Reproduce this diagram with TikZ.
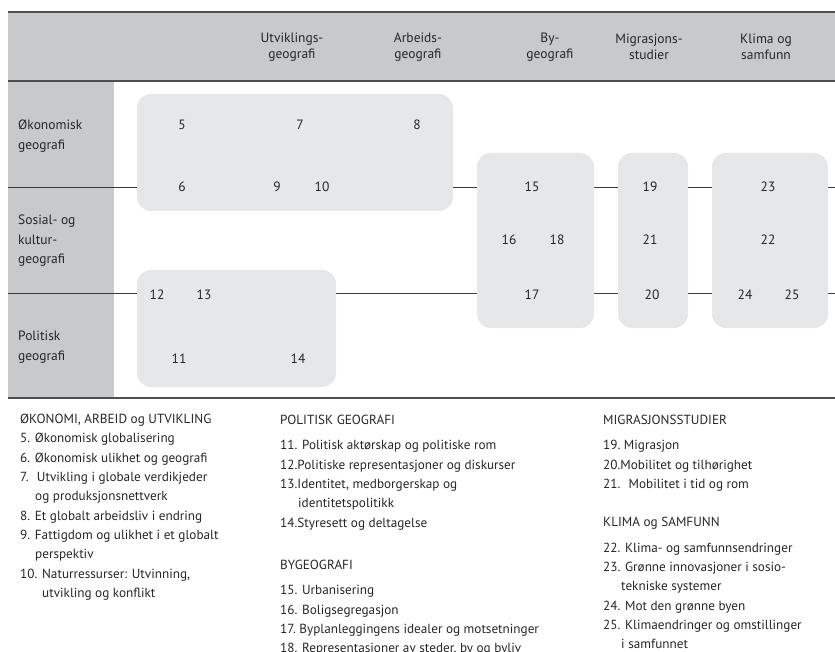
\documentclass[tikz,border=0pt]{standalone}
\usepackage{fontspec}
\setmainfont{PT Sans}
\definecolor{headgray}{HTML}{C8C9CB}
\definecolor{boxgray}{HTML}{E6E7E8}
\definecolor{rulegray}{HTML}{3A3A3A}
\newcommand{\tabfnt}{\fontsize{13.5}{19.5}\selectfont}
\newcommand{\headfnt}{\fontsize{13.5}{16.5}\selectfont}
\newcommand{\listfnt}{\fontsize{13.2}{19.3}\selectfont}
\tikzset{
  topic/.style={fill=boxgray, rounded corners=14pt, inner sep=0pt},
  num/.style={font=\tabfnt, text=black!85},
  rowlabel/.style={anchor=north west, align=left, font=\tabfnt, inner sep=0pt, text=black!85},
  colhead/.style={align=center, font=\headfnt, text=black!85},
  listcol/.style={anchor=north west, align=left, font=\listfnt, inner sep=0pt, text=black!85},
  rowrule/.style={draw=rulegray, line width=0.9pt},
  bandrule/.style={draw=rulegray!90, line width=1.4pt},
}
\begin{document}
\begin{tikzpicture}[x=1pt, y=-1pt]
  \useasboundingbox (0,0) rectangle (835,652);

  % grey header band and row column
  \fill[headgray] (8,12) rectangle (835,81);
  \fill[headgray] (8,81) rectangle (114,398);

  \coordinate (topL) at (8,12);     \coordinate (topR) at (835,12);
  \coordinate (headL) at (8,81);    \coordinate (headR) at (835,81);
  \coordinate (footL) at (8,398);   \coordinate (footR) at (835,398);
  \coordinate (r1L) at (8,187);     \coordinate (r1R) at (835,187);
  \coordinate (r2L) at (8,293);     \coordinate (r2R) at (835,293);

  \draw[bandrule] (topL) -- (topR);
  \draw[bandrule] (headL) -- (headR);
  \draw[bandrule] (footL) -- (footR);
  \draw[rowrule] (r1L) -- (r1R);
  \draw[rowrule] (r2L) -- (r2R);

  % topic boxes
  \node[topic, minimum width=316pt, minimum height=117pt] (econ) at (295,152.5) {};
  \node[topic, minimum width=199pt, minimum height=117pt] (polit) at (236.5,328.5) {};
  \node[topic, minimum width=117pt, minimum height=175pt] (urban) at (535.5,240.5) {};
  \node[topic, minimum width=70pt, minimum height=175pt] (migr) at (653,240.5) {};
  \node[topic, minimum width=116pt, minimum height=175pt] (klima) at (770,240.5) {};

  % column heads
  \node[colhead] (hUtv) at (292,47) {Utviklings-\\geografi};
  \node[colhead] (hArb) at (418,47) {Arbeids-\\geografi};
  \node[colhead] (hBy) at (550,47) {By-\\geografi};
  \node[colhead] (hMig) at (649,47) {Migrasjons-\\studier};
  \node[colhead] (hKli) at (766,47) {Klima og\\samfunn};

  % row labels
  \node[rowlabel] (lOko) at (18,120) {Økonomisk\\geografi};
  \node[rowlabel] (lSos) at (18,215) {Sosial- og\\kultur-\\geografi};
  \node[rowlabel] (lPol) at (18,331) {Politisk\\geografi};

  % topic numbers
  \node[num] (n5) at (182,125) {5};
  \node[num] (n7) at (300,125) {7};
  \node[num] (n8) at (417,125) {8};
  \node[num] (n6) at (182,187) {6};
  \node[num] (n9) at (277,187) {9};
  \node[num] (n10) at (322,187) {10};
  \node[num] (n12) at (157,295) {12};
  \node[num] (n13) at (204,295) {13};
  \node[num] (n11) at (179,359) {11};
  \node[num] (n14) at (298,359) {14};
  \node[num] (n15) at (532,187) {15};
  \node[num] (n16) at (509,240) {16};
  \node[num] (n18) at (557,240) {18};
  \node[num] (n17) at (532,295) {17};
  \node[num] (n19) at (650,187) {19};
  \node[num] (n21) at (650,240) {21};
  \node[num] (n20) at (652,295) {20};
  \node[num] (n23) at (768,187) {23};
  \node[num] (n22) at (768,240) {22};
  \node[num] (n24) at (745,295) {24};
  \node[num] (n25) at (792,295) {25};

  % key lists
  \node[listcol] (keyOko) at (20,414) {ØKONOMI, ARBEID og UTVIKLING\\
    5. Økonomisk globalisering\\
    6. Økonomisk ulikhet og geografi\\
    7.~ Utvikling i globale verdikjeder\\
    \hspace*{15pt}og produksjonsnettverk\\
    8. Et globalt arbeidsliv i endring\\
    9. Fattigdom og ulikhet i et globalt\\
    \hspace*{15pt}perspektiv\\
    10. Naturressurser: Utvinning,\\
    \hspace*{22pt}utvikling og konflikt};
  \node[listcol] (keyPol) at (280,415) {POLITISK GEOGRAFI\\[6pt]
    11. Politisk aktørskap og politiske rom\\
    12.Politiske representasjoner og diskurser\\
    13.Identitet, medborgerskap og\\
    \hspace*{18pt}identitetspolitikk\\
    14.Styresett og deltagelse\\[23pt]
    BYGEOGRAFI\\[6pt]
    15. Urbanisering\\
    16. Boligsegregasjon\\
    17.~Byplanleggingens idealer og motsetninger\\
    18. Representasjoner av steder, by og byliv};
  \node[listcol] (keyMig) at (603,415) {MIGRASJONSSTUDIER\\[6pt]
    19.~Migrasjon\\
    20.Mobilitet og tilhørighet\\
    21.~ Mobilitet i tid og rom\\[19pt]
    KLIMA og SAMFUNN\\[6pt]
    22. Klima- og samfunnsendringer\\
    23. Grønne innovasjoner i sosio-\\
    \hspace*{18pt}tekniske systemer\\
    24. Mot den grønne byen\\
    25. Klimaendringer og omstillinger\\
    \hspace*{18pt}i samfunnet};
\end{tikzpicture}
\end{document}
